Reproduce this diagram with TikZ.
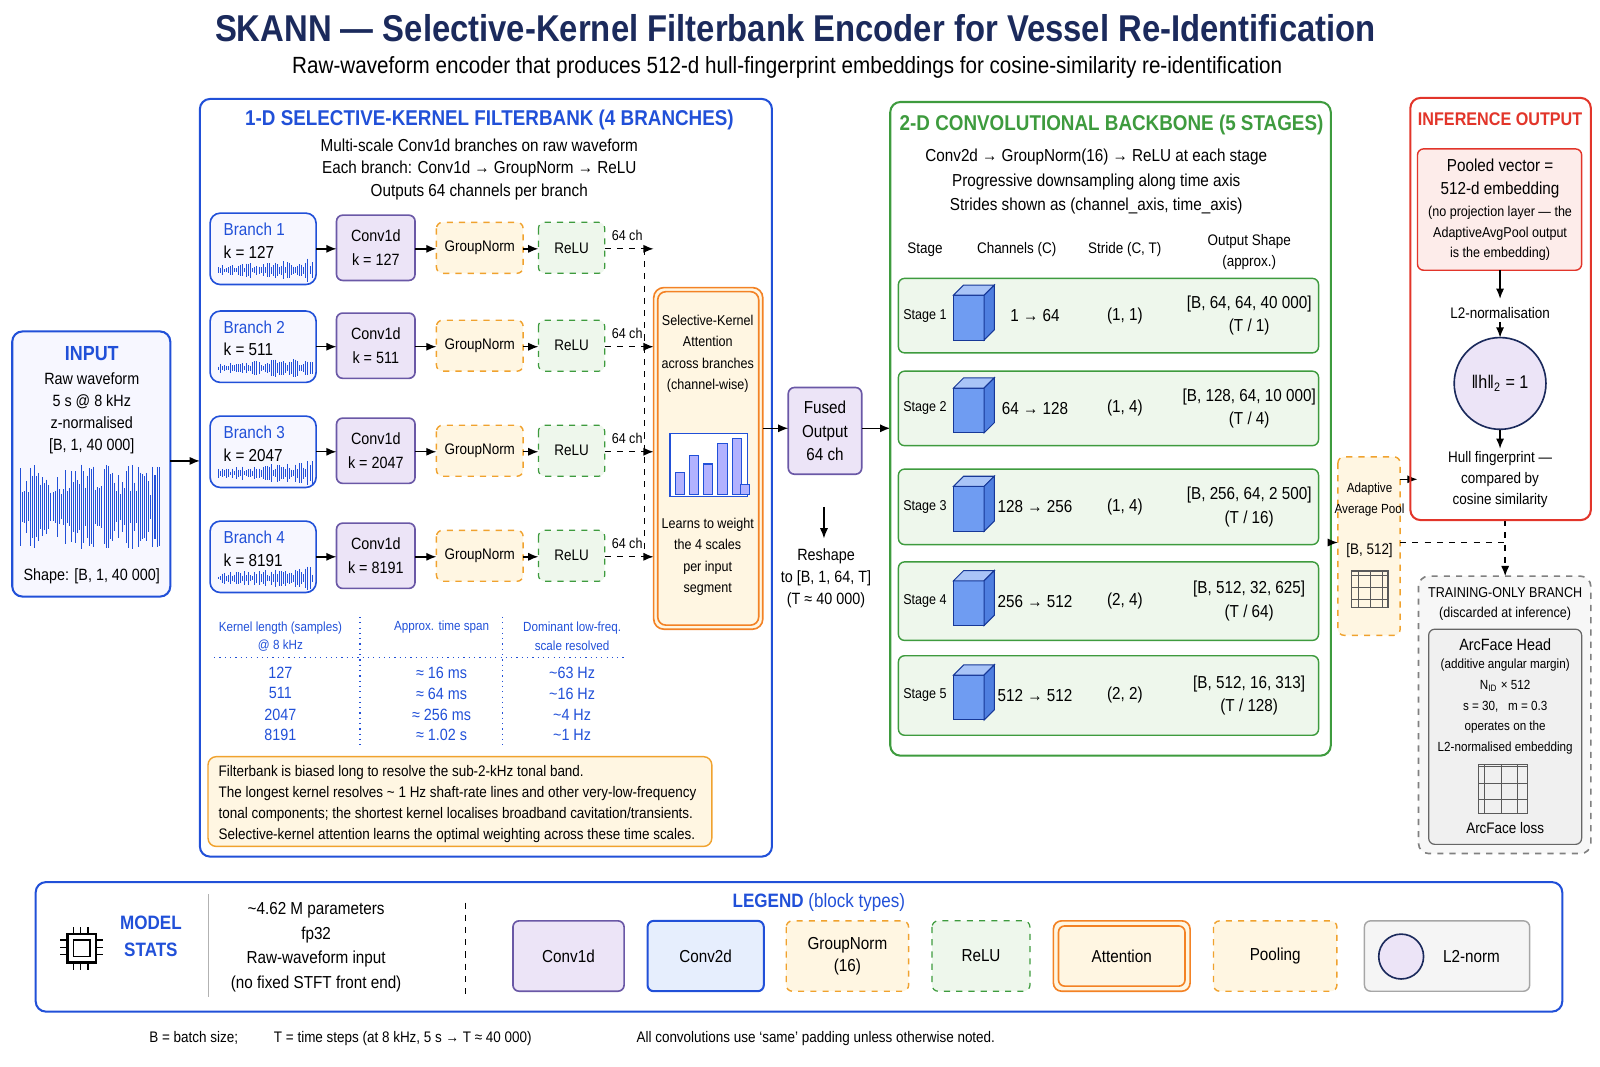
\documentclass[tikz,border=0pt]{standalone}
\usepackage{fontspec}
\setmainfont[FakeStretch=0.88]{Liberation Sans}
\usepackage{tikz}
\usetikzlibrary{arrows.meta,positioning,shapes}
\tikzset{>={Latex[width=4pt,length=5pt]}}
\definecolor{navy}{HTML}{1B2A5C}
\definecolor{bblue}{HTML}{2150D8}
\definecolor{cpur}{HTML}{6A58A6}\definecolor{fpur}{HTML}{ECE4F7}
\definecolor{corg}{HTML}{F0A22E}\definecolor{forg}{HTML}{FFF6E2}
\definecolor{cgrn}{HTML}{3E9B3E}\definecolor{fgrn}{HTML}{EEF7EC}
\definecolor{cred}{HTML}{E2352A}\definecolor{fred}{HTML}{FDECEA}
\definecolor{fblu}{HTML}{E6EEFD}
\definecolor{cube1}{HTML}{6F9CF2}\definecolor{cube2}{HTML}{A9C4F7}\definecolor{cube3}{HTML}{4F7FE0}
\tikzset{
  txt/.style={font=\fontsize{7.5}{9.5}\selectfont,align=center,inner sep=0pt},
  conv/.style={draw=cpur,fill=fpur,rounded corners=3pt,line width=0.8pt},
  gn/.style={draw=corg,fill=forg,rounded corners=3pt,dashed,line width=0.7pt},
  relu/.style={draw=cgrn,fill=fgrn,rounded corners=3pt,dashed,line width=0.6pt},
  panel/.style={rounded corners=5pt,line width=1pt},
  stage/.style={draw=cgrn,fill=fgrn,rounded corners=3pt,line width=0.7pt},
  ar/.style={->,line width=0.7pt},
}
\begin{document}
\begin{tikzpicture}[x=0.5pt,y=-0.5pt]
  \pgfmathsetseed{7}

  \newcommand\wave[5]{% x0, y0, width, amp, grow
    \foreach \i in {0,2,...,#3}{
      \pgfmathsetmacro\a{#4*(1-#5+#5*\i/#3)*(0.25+0.75*rnd)}
      \draw[bblue,line width=0.5pt] (#1+\i,#2-\a) -- (#1+\i,#2+\a);}}
  \newcommand\cube[2]{%
    \draw[bblue!70!black,fill=cube1,line width=0.5pt] (#1-20,#2-12) rectangle (#1+10,#2+32);
    \draw[bblue!70!black,fill=cube2,line width=0.5pt] (#1-20,#2-12) -- (#1-10,#2-22) -- (#1+20,#2-22) -- (#1+10,#2-12) -- cycle;
    \draw[bblue!70!black,fill=cube3,line width=0.5pt] (#1+10,#2-12) -- (#1+20,#2-22) -- (#1+20,#2+22) -- (#1+10,#2+32) -- cycle;}
  \newcommand\grid[3]{%
    \draw[gray!70!black,fill=gray!25,line width=0.5pt,step=#3*0.5pt] (#1,#2) grid +(3*#3,3*#3);
    \draw[gray!70!black,line width=0.6pt] (#1,#2) rectangle +(3*#3,3*#3);}

  % title
  \node[font=\bfseries\fontsize{18.3}{22}\selectfont,text=navy] (title) at (780,28) {SKANN — Selective-Kernel Filterbank Encoder for Vessel Re-Identification};
  \node[font=\fontsize{11.5}{13}\selectfont] (sub) at (772,66) {Raw-waveform encoder that produces 512-d hull-fingerprint embeddings for cosine-similarity re-identification};

  % input
  \draw[panel,draw=bblue,fill=blue!3] (12,325) rectangle (167,585);
  \node[txt,font=\bfseries\fontsize{10}{12}\selectfont,text=bblue] (inp) at (90,347) {INPUT};
  \node[txt,font=\fontsize{8}{10.8}\selectfont] (inptxt) at (90,405) {Raw waveform\\5 s @ 8 kHz\\z-normalised\\{[B, 1, 40 000]}};
  \wave{20}{497}{136}{42}{0}
  \node[txt,font=\fontsize{8}{10}\selectfont] (shape) at (90,565) {Shape: [B, 1, 40 000]};
  \draw[ar] (167,452) -- (196,452);

  % filterbank panel
  \draw[panel,draw=bblue] (196,97) rectangle (757,840);
  \node[txt,font=\bfseries\fontsize{10.5}{12}\selectfont,text=bblue] (fbt) at (480,118) {1-D SELECTIVE-KERNEL FILTERBANK (4 BRANCHES)};
  \node[txt,font=\fontsize{8.5}{11}\selectfont] (fbs) at (470,166) {Multi-scale Conv1d branches on raw waveform\\Each branch: Conv1d → GroupNorm → ReLU\\Outputs 64 channels per branch};

  \foreach \n/\k/\y in {1/127/244,2/511/340,3/2047/443,4/8191/546}{
    \draw[panel,draw=bblue,fill=blue!3,line width=0.8pt] (206,\y-35) rectangle (310,\y+35);
    \node[txt,font=\fontsize{8.5}{10}\selectfont,text=bblue,anchor=west,align=left] (br\n) at (219,\y-8) {Branch \n\\[1pt]\textcolor{black}{k = \k}};
    \wave{214}{\y+21}{92}{12}{0.6}
    \draw[conv] (330,\y-33) rectangle (407,\y+31) node[midway,txt,font=\fontsize{8}{10}\selectfont] (cv\n) {Conv1d\\[2pt]k = \k};
    \draw[gn] (428,\y-26) rectangle (513,\y+24) node[midway,txt] (gn\n) {GroupNorm};
    \draw[relu] (528,\y-26) rectangle (593,\y+24) node[midway,txt] (re\n) {ReLU};
    \draw[ar] (310,\y) -- (330,\y);
    \draw[ar] (407,\y) -- (428,\y);
    \draw[ar] (513,\y) -- (528,\y);
    \node[txt,font=\fontsize{7}{8}\selectfont] (ch\n) at (615,\y-13) {64 ch};
    \draw[dashed,line width=0.6pt] (593,\y) -- (632,\y);
    \draw[ar,dashed] (632,\y) -- (641,\y);
  }
  \draw[dashed,line width=0.6pt] (632,244) -- (632,546);

  % attention
  \draw[draw=corg!80!red,fill=forg,rounded corners=5pt,line width=0.8pt] (641,282) rectangle (748,617);
  \draw[draw=corg!80!red,rounded corners=4pt,line width=0.8pt] (645,286) rectangle (744,613);
  \node[txt,font=\fontsize{7}{10.5}\selectfont] (att) at (694,347) {Selective-Kernel\\Attention\\across branches\\(channel-wise)};
  \draw[bblue,line width=0.7pt,fill=white] (657,425) rectangle (733,487);
  \foreach \xx/\hh in {662/22,676/38,690/30,704/50,718/55,726/10}
    \draw[bblue,fill=blue!30,line width=0.5pt] (\xx,485) rectangle (\xx+9,485-\hh);
  \node[txt,font=\fontsize{7}{10.5}\selectfont] (attb) at (694,546) {Learns to weight\\the 4 scales\\per input\\segment};

  % fused
  \draw[conv] (773,380) rectangle (845,465) node[midway,txt,font=\fontsize{8.5}{11.5}\selectfont] (fused) {Fused\\Output\\64 ch};
  \draw[ar] (748,420) -- (773,420);
  \draw[ar] (845,420) -- (873,420);
  \draw[ar] (808,497) -- (808,528);
  \node[txt,font=\fontsize{8}{10.8}\selectfont] (resh) at (810,567) {Reshape\\to [B, 1, 64, T]\\(T ≈ 40 000)};

  % kernel table
  \node[txt,font=\fontsize{6.5}{9}\selectfont,text=bblue] (th1) at (275,624) {Kernel length (samples)\\@ 8 kHz};
  \node[txt,font=\fontsize{6.5}{9}\selectfont,text=bblue] (th2) at (433,615) {Approx. time span};
  \node[txt,font=\fontsize{6.5}{9}\selectfont,text=bblue] (th3) at (561,624) {Dominant low-freq.\\scale resolved};
  \draw[bblue,dotted,line width=0.6pt] (210,645) -- (615,645);
  \draw[bblue,dotted,line width=0.6pt] (353,605) -- (353,732) (493,605) -- (493,732);
  \foreach \a/\b/\c/\y in {127/≈ 16 ms/\textasciitilde63 Hz/660,511/≈ 64 ms/\textasciitilde16 Hz/680,2047/≈ 256 ms/\textasciitilde4 Hz/701,8191/≈ 1.02 s/\textasciitilde1 Hz/721}{
    \node[txt,font=\fontsize{8}{9}\selectfont,text=bblue] at (275,\y) {\a};
    \node[txt,font=\fontsize{8}{9}\selectfont,text=bblue] at (433,\y) {\b};
    \node[txt,font=\fontsize{8}{9}\selectfont,text=bblue] at (561,\y) {\c};}

  % note
  \draw[draw=corg,fill=forg,rounded corners=4pt,line width=0.7pt] (204,742) rectangle (698,830);
  \node[txt,font=\fontsize{7.5}{10.4}\selectfont,anchor=north west,align=left] (note) at (214,750) {Filterbank is biased long to resolve the sub-2-kHz tonal band.\\The longest kernel resolves \textasciitilde{} 1 Hz shaft-rate lines and other very-low-frequency\\tonal components; the shortest kernel localises broadband cavitation/transients.\\Selective-kernel attention learns the optimal weighting across these time scales.};

  % backbone
  \draw[panel,draw=cgrn] (873,100) rectangle (1305,741);
  \node[txt,font=\bfseries\fontsize{10.5}{12}\selectfont,text=cgrn] (bbt) at (1090,123) {2-D CONVOLUTIONAL BACKBONE (5 STAGES)};
  \node[txt,font=\fontsize{8.5}{11.8}\selectfont] (bbs) at (1075,178) {Conv2d → GroupNorm(16) → ReLU at each stage\\Progressive downsampling along time axis\\Strides shown as (channel\_axis, time\_axis)};
  \node[txt,font=\fontsize{7.5}{9}\selectfont] (hs) at (907,245) {Stage};
  \node[txt,font=\fontsize{7.5}{9}\selectfont] (hc) at (997,245) {Channels (C)};
  \node[txt,font=\fontsize{7.5}{9}\selectfont] (hst) at (1103,245) {Stride (C, T)};
  \node[txt,font=\fontsize{7.5}{10}\selectfont] (ho) at (1225,247) {Output Shape\\(approx.)};
  \foreach \n/\t/\y/\c/\s/\o/\r in {1/273/346/1 → 64/{(1, 1)}/{[B, 64, 64, 40 000]}/1,
      2/364/437/64 → 128/{(1, 4)}/{[B, 128, 64, 10 000]}/4,
      3/460/534/128 → 256/{(1, 4)}/{[B, 256, 64, 2 500]}/16,
      4/551/628/256 → 512/{(2, 4)}/{[B, 512, 32, 625]}/64,
      5/643/721/512 → 512/{(2, 2)}/{[B, 512, 16, 313]}/128}{
    \pgfmathsetmacro\m{(\t+\y)/2}
    \draw[stage] (881,\t) rectangle (1293,\y);
    \node[txt,font=\fontsize{7}{9}\selectfont] (st\n) at (907,\m) {Stage \n};
    \cube{955}{\m-8}
    \node[txt,font=\fontsize{8.5}{9}\selectfont] at (1015,\m) {\c};
    \node[txt,font=\fontsize{8.5}{9}\selectfont] at (1103,\m) {\s};
    \node[txt,font=\fontsize{8.5}{11.5}\selectfont] at (1225,\m) {\o\\(T / \r)};
  }

  % pool
  \draw[gn] (1312,448) rectangle (1373,623);
  \node[txt,font=\fontsize{6.5}{10}\selectfont] (pool) at (1343,490) {Adaptive\\Average Pool};
  \node[txt,font=\fontsize{7.5}{9}\selectfont] (pooldim) at (1343,540) {[B, 512]};
  \grid{1325}{560}{12}
  \draw[ar] (1305,532) -- (1312,532);
  \draw[ar] (1373,470) -- (1390,470);
  \draw[dashed,line width=0.6pt] (1373,532) -- (1476,532);
  \draw[ar,dashed] (1476,510) -- (1476,565);

  % inference
  \draw[panel,draw=cred] (1383,96) rectangle (1560,510);
  \node[txt,font=\bfseries\fontsize{9}{11}\selectfont,text=cred] (inft) at (1471,117) {INFERENCE OUTPUT};
  \draw[draw=cred,fill=fred,rounded corners=3pt,line width=0.7pt] (1390,146) rectangle (1551,265);
  \node[txt,font=\fontsize{8.5}{11}\selectfont] (pv) at (1471,175) {Pooled vector =\\512-d embedding};
  \node[txt,font=\fontsize{7}{10}\selectfont] (pvn) at (1471,229) {(no projection layer — the\\AdaptiveAvgPool output\\is the embedding)};
  \draw[ar] (1471,265) -- (1471,293);
  \node[txt,font=\fontsize{7.5}{9}\selectfont] (l2t) at (1471,307) {L2-normalisation};
  \draw[ar] (1471,316) -- (1471,331);
  \node[circle,draw=navy,fill=fpur,minimum size=45pt,line width=0.8pt,font=\fontsize{9}{10}\selectfont] (l2) at (1471,376) {‖h‖\textsubscript{2} = 1};
  \draw[ar] (l2) -- (1471,440);
  \node[txt,font=\fontsize{7.5}{10.2}\selectfont] (hf) at (1471,470) {Hull fingerprint —\\compared by\\cosine similarity};

  % training
  \draw[draw=gray,dashed,rounded corners=5pt,line width=0.8pt,fill=gray!6] (1391,565) rectangle (1560,837);
  \node[txt,font=\fontsize{7}{10}\selectfont] (trt) at (1476,592) {TRAINING-ONLY BRANCH\\(discarded at inference)};
  \draw[draw=gray!80!black,fill=gray!12,rounded corners=3pt,line width=0.6pt] (1401,617) rectangle (1551,828);
  \node[txt,font=\fontsize{8}{9}\selectfont] (af) at (1476,632) {ArcFace Head};
  \node[txt,font=\fontsize{6.5}{10.2}\selectfont] (afs) at (1476,693) {(additive angular margin)\\N\textsubscript{ID} × 512\\s = 30, \ \ m = 0.3\\operates on the\\L2-normalised embedding};
  \grid{1450}{750}{16}
  \node[txt,font=\fontsize{7.5}{9}\selectfont] (afl) at (1476,812) {ArcFace loss};

  % legend
  \draw[panel,draw=bblue] (35,865) rectangle (1532,992);
  \draw[line width=1.2pt] (66,916) rectangle (94,944);
  \draw[line width=0.8pt] (72,922) rectangle (88,938);
  \foreach \d in {0,7,14}{
    \draw[line width=0.8pt] (72+\d,916) -- (72+\d,909) (72+\d,944) -- (72+\d,951)
      (66,922+\d) -- (59,922+\d) (94,922+\d) -- (101,922+\d);}
  \node[txt,font=\bfseries\fontsize{9.5}{13}\selectfont,text=bblue] (ms) at (148,918) {MODEL\\STATS};
  \draw[gray!60,line width=0.5pt] (204,877) -- (204,978);
  \node[txt,font=\fontsize{8.5}{12}\selectfont] (stats) at (310,929) {\textasciitilde4.62 M parameters\\fp32\\Raw-waveform input\\(no fixed STFT front end)};
  \draw[dashed,line width=0.5pt] (456,885) -- (456,975);
  \node[txt,font=\fontsize{9.5}{11}\selectfont,text=bblue] (lg) at (803,885) {\textbf{LEGEND} (block types)};
  \draw[conv] (503,903) rectangle (612,972) node[midway,txt,font=\fontsize{8.5}{9}\selectfont] (l1) {Conv1d};
  \draw[draw=bblue,fill=fblu,rounded corners=3pt,line width=1pt] (635,903) rectangle (749,972) node[midway,txt,font=\fontsize{8.5}{9}\selectfont] (l2b) {Conv2d};
  \draw[gn] (771,903) rectangle (891,972) node[midway,txt,font=\fontsize{8.5}{11}\selectfont] (l3) {GroupNorm\\(16)};
  \draw[relu] (914,903) rectangle (1010,972) node[midway,txt,font=\fontsize{8.5}{9}\selectfont] (l4) {ReLU};
  \draw[draw=corg!80!red,fill=forg,rounded corners=4pt,line width=0.8pt] (1033,903) rectangle (1167,972);
  \draw[draw=corg!80!red,fill=forg,rounded corners=3pt,line width=0.8pt] (1038,908) rectangle (1162,967) node[midway,txt,font=\fontsize{8.5}{9}\selectfont] (l5) {Attention};
  \draw[gn] (1190,903) rectangle (1311,972) node[midway,txt,font=\fontsize{8.5}{9}\selectfont] (l6) {Pooling};
  \draw[draw=gray!70,fill=gray!8,rounded corners=3pt,line width=0.7pt] (1338,903) rectangle (1500,972);
  \node[circle,draw=navy,fill=fpur,minimum size=22pt,line width=0.8pt] (l7c) at (1374,938) {};
  \node[txt,font=\fontsize{8.5}{9}\selectfont] (l7) at (1443,938) {L2-norm};

  % footnotes
  \node[txt,font=\fontsize{7.5}{9}\selectfont] (f1) at (190,1018) {B = batch size;};
  \node[txt,font=\fontsize{7.5}{9}\selectfont] (f2) at (395,1018) {T = time steps (at 8 kHz, 5 s → T ≈ 40 000)};
  \node[txt,font=\fontsize{7.5}{9}\selectfont] (f3) at (800,1018) {All convolutions use ‘same’ padding unless otherwise noted.};

  \pgfresetboundingbox
  \useasboundingbox (0,0) rectangle (1569,1046);
\end{tikzpicture}
\end{document}
